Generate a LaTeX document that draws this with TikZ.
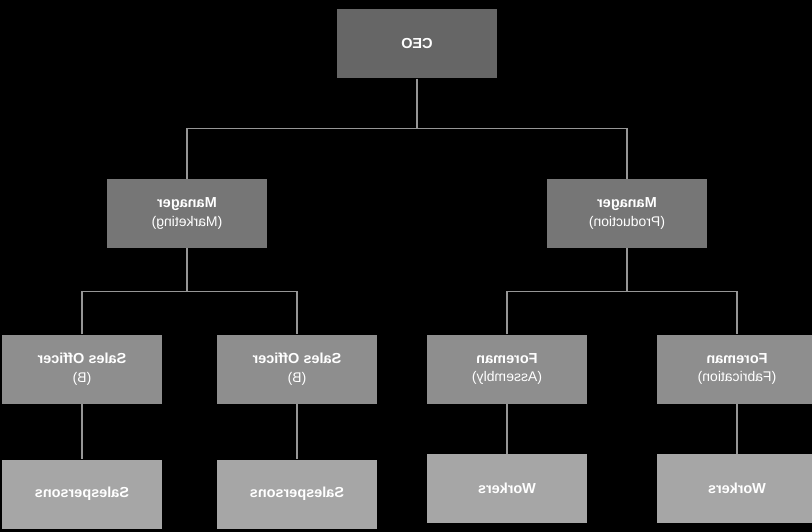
\documentclass[tikz,border=0pt]{standalone}
\usepackage{fontspec}
\setmainfont{Liberation Sans}
\usetikzlibrary{positioning}

\begin{document}
\begin{tikzpicture}[
  x=1pt, y=-1pt,
  box/.style={xscale=-1, minimum width=160pt, minimum height=69pt, inner sep=0pt,
    align=center, text=white, font=\fontsize{14.5}{18.5}\selectfont},
  link/.style={draw=linegray, line width=1.2pt}
]
  \definecolor{linegray}{RGB}{150,150,150}
  \definecolor{toptone}{RGB}{102,102,102}
  \definecolor{midtone}{RGB}{118,118,118}
  \definecolor{lowtone}{RGB}{142,142,142}
  \definecolor{basetone}{RGB}{166,166,166}

  \newcommand{\sub}[1]{{\fontsize{14}{18.5}\selectfont #1}}

  \useasboundingbox (0,0) rectangle (812,532);
  \fill[black] (0,0) rectangle (812,532);

  % top and second level
  \node[box, fill=toptone] (ceo) at (417,44) {\bfseries CEO};
  \node[box, fill=midtone] (mktg) at (187,213.5) {\bfseries Manager\\ \sub{(Marketing)}};
  \node[box, fill=midtone] (prod) at (627,213.5) {\bfseries Manager\\ \sub{(Production)}};

  % third level
  \node[box, fill=lowtone] (sales1) at (82,369) {\bfseries Sales Officer\\ \sub{(B)}};
  \node[box, fill=lowtone] (sales2) at (297,369) {\bfseries Sales Officer\\ \sub{(B)}};
  \node[box, fill=lowtone] (foreasm) at (507,369) {\bfseries Foreman\\ \sub{(Assembly)}};
  \node[box, fill=lowtone] (forefab) at (737,369) {\bfseries Foreman\\ \sub{(Fabrication)}};

  % bottom level
  \node[box, fill=basetone] (persons1) at (82,494) {\bfseries Salespersons};
  \node[box, fill=basetone] (persons2) at (297,494) {\bfseries Salespersons};
  \node[box, fill=basetone] (workers1) at (507,488.5) {\bfseries Workers};
  \node[box, fill=basetone] (workers2) at (737,488.5) {\bfseries Workers};

  % connectors
  \draw[link] (ceo.south) -- ++(0,50) coordinate (ceojoin);
  \draw[link] (mktg.north) |- (ceojoin) -| (prod.north);

  \draw[link] (mktg.south) -- ++(0,43) coordinate (mktgjoin);
  \draw[link] (sales1.north) |- (mktgjoin) -| (sales2.north);

  \draw[link] (prod.south) -- ++(0,43) coordinate (prodjoin);
  \draw[link] (foreasm.north) |- (prodjoin) -| (forefab.north);

  \draw[link] (sales1.south) -- (persons1.north);
  \draw[link] (sales2.south) -- (persons2.north);
  \draw[link] (foreasm.south) -- (workers1.north);
  \draw[link] (forefab.south) -- (workers2.north);
\end{tikzpicture}
\end{document}
